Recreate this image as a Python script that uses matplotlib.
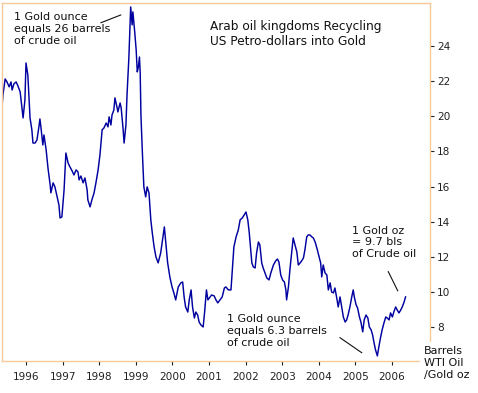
import matplotlib
matplotlib.use("Agg")
import matplotlib.pyplot as plt
from matplotlib.lines import Line2D

# Barrels of WTI oil per gold ounce (decimal years)
dates = [
    1995.34, 1995.37, 1995.43, 1995.48, 1995.54, 1995.59, 1995.62, 1995.67, 1995.73, 1995.78,
    1995.84, 1995.89, 1995.92, 1995.97, 1996.00, 1996.05, 1996.11, 1996.16, 1996.19, 1996.25,
    1996.30, 1996.36, 1996.38, 1996.41, 1996.46, 1996.49, 1996.55, 1996.60, 1996.66, 1996.68,
    1996.74, 1996.79, 1996.85, 1996.90, 1996.93, 1996.98, 1997.04, 1997.09, 1997.15, 1997.20,
    1997.26, 1997.31, 1997.37, 1997.42, 1997.45, 1997.50, 1997.56, 1997.61, 1997.67, 1997.69,
    1997.75, 1997.80, 1997.86, 1997.91, 1997.97, 1998.02, 1998.08, 1998.13, 1998.19, 1998.24,
    1998.27, 1998.32, 1998.35, 1998.40, 1998.43, 1998.49, 1998.51, 1998.57, 1998.60, 1998.65,
    1998.68, 1998.73, 1998.76, 1998.81, 1998.86, 1998.90, 1998.92, 1998.97, 1999.01, 1999.04,
    1999.07, 1999.10, 1999.12, 1999.14, 1999.18, 1999.22, 1999.27, 1999.31, 1999.36, 1999.41,
    1999.45, 1999.50, 1999.55, 1999.61, 1999.68, 1999.73, 1999.78, 1999.83, 1999.87, 1999.93,
    1999.99, 2000.04, 2000.09, 2000.16, 2000.23, 2000.28, 2000.32, 2000.36, 2000.42, 2000.46,
    2000.51, 2000.55, 2000.60, 2000.64, 2000.69, 2000.73, 2000.78, 2000.84, 2000.88, 2000.93,
    2000.97, 2001.03, 2001.07, 2001.14, 2001.19, 2001.24, 2001.30, 2001.36, 2001.42, 2001.46,
    2001.53, 2001.60, 2001.64, 2001.68, 2001.74, 2001.80, 2001.85, 2001.91, 2001.96, 2002.01,
    2002.06, 2002.10, 2002.17, 2002.21, 2002.26, 2002.30, 2002.35, 2002.39, 2002.44, 2002.48,
    2002.53, 2002.58, 2002.64, 2002.69, 2002.76, 2002.82, 2002.87, 2002.91, 2002.96, 2003.01,
    2003.06, 2003.10, 2003.12, 2003.17, 2003.21, 2003.26, 2003.30, 2003.35, 2003.40, 2003.44,
    2003.49, 2003.53, 2003.58, 2003.62, 2003.67, 2003.71, 2003.76, 2003.81, 2003.85, 2003.90,
    2003.96, 2004.01, 2004.05, 2004.08, 2004.12, 2004.17, 2004.22, 2004.26, 2004.31, 2004.35,
    2004.40, 2004.44, 2004.49, 2004.53, 2004.58, 2004.63, 2004.67, 2004.72, 2004.76, 2004.80,
    2004.85, 2004.90, 2004.94, 2004.97, 2005.02, 2005.06, 2005.11, 2005.15, 2005.20, 2005.24,
    2005.29, 2005.34, 2005.38, 2005.43, 2005.47, 2005.51, 2005.55, 2005.60, 2005.64, 2005.69,
    2005.73, 2005.78, 2005.83, 2005.87, 2005.92, 2005.96, 2006.01, 2006.05, 2006.10, 2006.14,
    2006.19, 2006.24, 2006.28, 2006.33, 2006.37,
]
ratio = [
    20.42, 21.22, 22.13, 21.96, 21.68, 21.96, 21.50, 21.85, 21.96, 21.73,
    21.39, 20.48, 19.91, 20.93, 23.04, 22.36, 19.91, 19.23, 18.48, 18.48,
    18.66, 19.51, 19.85, 19.34, 18.37, 18.94, 18.09, 17.06, 16.09, 15.64,
    16.21, 15.98, 15.41, 14.95, 14.21, 14.27, 15.81, 17.91, 17.34, 17.12,
    16.89, 16.66, 16.95, 16.83, 16.38, 16.60, 16.21, 16.49, 15.81, 15.24,
    14.84, 15.24, 15.64, 16.21, 16.95, 17.80, 19.23, 19.34, 19.62, 19.40,
    19.97, 19.51, 20.08, 20.36, 21.05, 20.48, 20.25, 20.76, 20.48, 19.34,
    18.48, 19.51, 21.22, 23.33, 26.23, 25.21, 25.95, 24.81, 23.78, 22.53,
    22.81, 23.38, 22.47, 20.08, 17.91, 15.98, 15.41, 15.98, 15.64, 14.10,
    13.36, 12.56, 11.99, 11.65, 12.22, 12.96, 13.70, 12.56, 11.65, 10.85,
    10.28, 9.94, 9.54, 10.28, 10.51, 10.56, 9.71, 9.14, 8.85, 9.54,
    10.11, 9.14, 8.51, 8.85, 8.68, 8.28, 8.11, 8.00, 8.85, 10.11,
    9.54, 9.71, 9.82, 9.77, 9.54, 9.37, 9.54, 9.71, 10.22, 10.28,
    10.11, 10.11, 11.36, 12.56, 13.13, 13.53, 14.10, 14.21, 14.38, 14.55,
    14.10, 13.36, 11.65, 11.42, 11.36, 12.22, 12.84, 12.67, 11.65, 11.36,
    11.08, 10.79, 10.68, 11.08, 11.53, 11.76, 11.87, 11.70, 10.96, 10.68,
    10.56, 10.11, 9.54, 10.28, 11.25, 12.27, 13.07, 12.67, 12.27, 11.53,
    11.65, 11.76, 11.93, 12.39, 13.13, 13.24, 13.24, 13.13, 13.07, 12.84,
    12.39, 11.99, 11.65, 10.85, 11.53, 11.08, 10.96, 10.11, 10.51, 9.99,
    9.94, 10.22, 9.65, 9.14, 9.71, 9.08, 8.57, 8.28, 8.40, 8.68,
    9.14, 9.71, 10.11, 9.71, 9.25, 9.08, 8.57, 8.28, 7.72, 8.40,
    8.68, 8.51, 8.00, 7.83, 7.54, 7.09, 6.69, 6.35, 6.86, 7.43,
    7.83, 8.23, 8.57, 8.51, 8.40, 8.80, 8.57, 8.85, 9.14, 8.97,
    8.80, 8.97, 9.14, 9.42, 9.71,
]

year_ticks = list(range(1996, 2007))
y_ticks = [8, 10, 12, 14, 16, 18, 20, 22, 24]

W, H = 478, 393
fig = plt.figure(figsize=(W / 100, H / 100), dpi=100)
ax = fig.add_axes([2 / W, 1 - 361 / H, 428 / W, 357.7 / H])

ax.plot(dates, ratio, color="#0000a0", lw=1.05)
ax.set_xlim(1995.344, 2007.038)
ax.set_ylim(6.06, 26.44)

border = "#f8c898"
for s in ax.spines.values():
    s.set_color(border)
    s.set_linewidth(1.0)

ax.yaxis.tick_right()
ax.set_yticks(y_ticks)
ax.set_xticks(year_ticks)
ax.set_xticklabels([str(y) for y in year_ticks])
ax.tick_params(axis="both", labelsize=7.6, colors="#222222", length=3, width=0.8,
               labelfontfamily="DejaVu Sans")
ax.tick_params(axis="y", pad=2)
ax.tick_params(axis="x", pad=5)

txt = dict(fontsize=8.0, color="#111111", linespacing=1.2, va="top", ha="left")

def px(x, y):
    return x / W, 1 - y / H

fig.text(*px(14, 12.5), "1 Gold ounce\nequals 26 barrels\nof crude oil", **txt)
fig.text(*px(210, 20), "Arab oil kingdoms Recycling\nUS Petro-dollars into Gold",
         fontsize=8.7, color="#111111", linespacing=1.2, va="top", ha="left")
fig.text(*px(352, 225.5), "1 Gold oz\n= 9.7 bls\nof Crude oil", **txt)
fig.text(*px(227, 314.5), "1 Gold ounce\nequals 6.3 barrels\nof crude oil", **txt)
fig.text(*px(424, 346.5), "Barrels\nWTI Oil\n/Gold oz", fontsize=8.0, color="#111111",
         linespacing=1.2, va="top", ha="left",
         bbox=dict(facecolor="white", edgecolor="none", pad=3))

for (x0, y0), (x1, y1) in [((101, 22.7), (120.7, 15)),
                           ((388.3, 271.7), (397.7, 290.7)),
                           ((340, 337.7), (361.7, 352.7))]:
    a, b = px(x0, y0)
    c, d = px(x1, y1)
    fig.add_artist(Line2D([a, c], [b, d], color="#111111", lw=0.8))

fig.savefig("out.png", dpi=100)
